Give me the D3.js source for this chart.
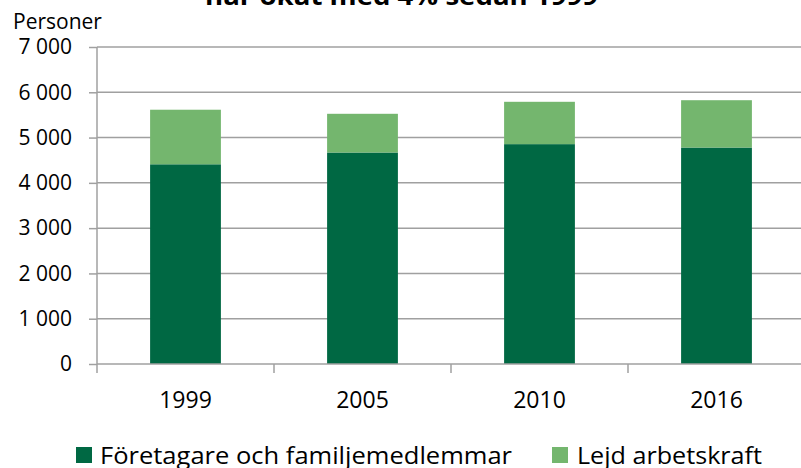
<!DOCTYPE html>
<html>
<head>
<meta charset="utf-8">
<script src="https://cdn.jsdelivr.net/npm/d3@7"></script>
<style>
  body { margin: 0; background: #fff; }
  svg { display: block; font-family: "Open Sans", sans-serif; }
</style>
</head>
<body>
<div id="chart"></div>
<script>
// Sysselsatta i jordbruket, personer
const years = ["1999", "2005", "2010", "2016"];
const foretagare = [4410, 4670, 4855, 4780];
const lejd = [1205, 855, 935, 1045];
const seriesNames = ["Företagare och familjemedlemmar", "Lejd arbetskraft"];
const yTicks = [0, 1000, 2000, 3000, 4000, 5000, 6000, 7000];

const width = 801,
    height = 468,
    margin = ({ top: 47, right: -4, bottom: 104, left: 97 });

const colors = ["#006843", "#74b66e"];

const data = years.map((y, i) => ({ year: y, a: foretagare[i], b: lejd[i] }));
const stacked = d3.stack().keys(["a", "b"])(data);

const svg = d3.select("#chart")
    .append("svg")
    .attr("width", width)
    .attr("height", height)
    .attr("viewBox", [0, 0, width, height]);

const x = d3.scaleBand()
    .domain(years)
    .range([margin.left, width - margin.right])
    .paddingInner(0.6)
    .paddingOuter(0.3);

const y = d3.scaleLinear()
    .domain([0, 7000])
    .range([height - margin.bottom, margin.top]);

const sv = d3.formatLocale({ decimal: ",", thousands: " ", grouping: [3], currency: ["", " kr"] });
const fmt = sv.format(",");

// title (mostly cut off at the top)
svg.append("text")
    .attr("x", 205)
    .attr("y", 5)
    .attr("textLength", 393)
    .attr("lengthAdjust", "spacingAndGlyphs")
    .attr("font-size", 25)
    .attr("font-weight", "bold")
    .attr("fill", "#000")
    .text("har ökat med 4% sedan 1999");

// gridlines
svg.append("g")
    .selectAll("line")
    .data(yTicks.filter(d => d > 0))
    .join("line")
    .attr("x1", margin.left)
    .attr("x2", width)
    .attr("y1", d => y(d))
    .attr("y2", d => y(d))
    .attr("stroke", "#a0a0a0")
    .attr("stroke-width", 1.5);

// y axis
const yAxis = g => g
    .attr("transform", `translate(${margin.left}, 0)`)
    .call(d3.axisLeft(y).tickValues(yTicks).tickFormat(fmt).tickSize(8).tickPadding(17))
    .call(g => g.select(".domain").remove())
    .call(g => g.selectAll(".tick line").attr("stroke", "#a0a0a0").attr("stroke-width", 1.5))
    .call(g => g.selectAll(".tick text").attr("font-size", 21).attr("fill", "#000")
        .attr("font-family", "Open Sans"));

svg.append("g").call(yAxis);

svg.append("line")
    .attr("x1", margin.left).attr("x2", margin.left)
    .attr("y1", y(7000)).attr("y2", y(0) + 9)
    .attr("stroke", "#a0a0a0")
    .attr("stroke-width", 1.5);

// bars
svg.append("g")
    .selectAll("g")
    .data(stacked)
    .join("g")
    .attr("fill", (d, i) => colors[i])
    .selectAll("rect")
    .data(d => d)
    .join("rect")
    .attr("x", d => x(d.data.year))
    .attr("width", x.bandwidth())
    .attr("y", d => y(d[1]))
    .attr("height", d => y(d[0]) - y(d[1]));

// x axis
svg.append("line")
    .attr("x1", margin.left).attr("x2", width)
    .attr("y1", y(0)).attr("y2", y(0))
    .attr("stroke", "#a0a0a0")
    .attr("stroke-width", 1.5);

svg.append("g")
    .selectAll("line")
    .data(years.slice(1))
    .join("line")
    .attr("x1", d => x(d) - x.step() * x.paddingInner() / 2)
    .attr("x2", d => x(d) - x.step() * x.paddingInner() / 2)
    .attr("y1", y(0))
    .attr("y2", y(0) + 9)
    .attr("stroke", "#a0a0a0")
    .attr("stroke-width", 1.5);

svg.append("g")
    .selectAll("text")
    .data(years)
    .join("text")
    .attr("x", d => x(d) + x.bandwidth() / 2)
    .attr("y", 408)
    .attr("text-anchor", "middle")
    .attr("font-size", 23)
    .attr("fill", "#000")
    .text(d => d);

// y label
svg.append("text")
    .attr("x", 13)
    .attr("y", 29)
    .attr("font-size", 21)
    .attr("fill", "#000")
    .text("Personer");

// legend
const legendPos = [
    { sx: 76, tx: 100, tw: 412 },
    { sx: 552, tx: 577, tw: 185 }
];

const legend = svg.append("g")
    .selectAll("g")
    .data(seriesNames)
    .join("g");

legend.append("rect")
    .attr("x", (d, i) => legendPos[i].sx)
    .attr("y", 447)
    .attr("width", 16)
    .attr("height", 16)
    .attr("fill", (d, i) => colors[i]);

legend.append("text")
    .attr("x", (d, i) => legendPos[i].tx)
    .attr("y", 464)
    .attr("font-size", 23)
    .attr("textLength", (d, i) => legendPos[i].tw)
    .attr("lengthAdjust", "spacingAndGlyphs")
    .attr("fill", "#000")
    .text(d => d);
</script>
</body>
</html>
